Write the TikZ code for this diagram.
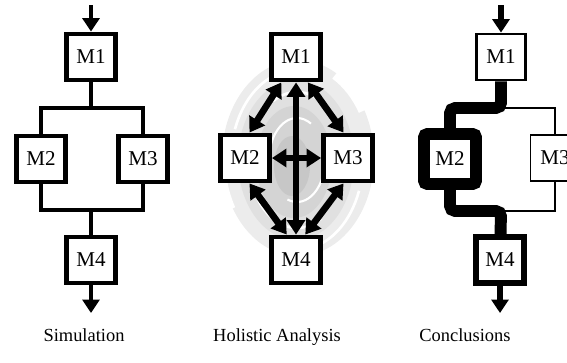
\documentclass[tikz,border=0pt]{standalone}
\usepackage{fontspec}
\setmainfont{Liberation Serif}
\usetikzlibrary{arrows.meta}
\begin{document}
\begin{tikzpicture}[x=0.02cm, y=-0.02cm,
  module/.style={draw, line width=2.8pt, fill=white, minimum width=0.98cm,
    minimum height=0.92cm, inner sep=0pt, font=\fontsize{12}{14}\selectfont},
  flow/.style={line width=2.8pt},
  flowin/.style={flow, -{Triangle[length=0.27cm, width=0.34cm]}},
  link/.style={line width=3.8pt,
    {Triangle[length=0.29cm, width=0.36cm]}-{Triangle[length=0.29cm, width=0.36cm]}},
  heavy/.style={line width=6.8pt, rounded corners=3pt},
  caption/.style={font=\fontsize{10.5}{12}\selectfont, anchor=base}]
\useasboundingbox (0,0) rectangle (567,362);
\clip (0,0) rectangle (567,362);

% simulation
\node[module] (s1) at (91,57) {M1};
\node[module] (s2) at (41,159) {M2};
\node[module] (s3) at (143,159) {M3};
\node[module] (s4) at (91,260) {M4};
\coordinate (sin) at (91,5);
\coordinate (sout) at (91,313);
\coordinate (ssplit) at (91,108);
\coordinate (sjoin) at (91,210);
\draw[flowin] (sin) -- (s1);
\draw[flow] (s1) -- (ssplit);
\draw[flow] (s2.north) |- (ssplit) -| (s3.north);
\draw[flow] (s2.south) |- (sjoin) -| (s3.south);
\draw[flow] (sjoin) -- (s4);
\draw[flowin] (s4) -- (sout);

% holistic analysis
\fill[gray!15] (298,158) ellipse [x radius=76, y radius=98];
\fill[gray!24] (296,160) ellipse [x radius=58, y radius=80];
\fill[gray!34] (294,162) ellipse [x radius=38, y radius=56];
\fill[gray!44] (292,166) ellipse [x radius=18, y radius=30];
\foreach \rx/\ry/\from/\to/\w in {76/98/300/330/5, 76/98/150/170/5,
    66/90/200/280/1.5, 66/90/20/80/1.5, 48/68/240/330/1.5, 48/68/60/150/1.5,
    28/42/180/300/1.2, 28/42/0/110/1.2}
  \draw[line width=\w pt, white] (297,160) ++({\rx*cos(\from)},{\ry*sin(\from)})
    arc[start angle=\from, end angle=\to, x radius=\rx, y radius=\ry];
\node[module] (h1) at (296,57) {M1};
\node[module] (h2) at (245,158) {M2};
\node[module] (h3) at (348,158) {M3};
\node[module] (h4) at (296,260) {M4};
\draw[link] (h1.-120) -- (h2.80);
\draw[link] (h1.-65) -- (h3.100);
\draw[link] (h1.south) -- (h4.north);
\draw[link] (h2.east) -- (h3.west);
\draw[link] (h2.-80) -- (h4.110);
\draw[link] (h3.-100) -- (h4.70);

% conclusions
\node[module, line width=1.6pt] (c1) at (501,57) {M1};
\node[module, line width=6.8pt, minimum width=1.04cm, minimum height=1cm,
  rounded corners=2pt] (c2) at (450,159) {M2};
\node[module, line width=0.8pt] (c3) at (555,158) {M3};
\node[module, line width=3.4pt, minimum width=0.96cm,
  minimum height=0.92cm] (c4) at (500,260) {M4};
\coordinate (cin) at (501,5);
\coordinate (cout) at (500,313);
\coordinate (csplit) at (501,108);
\coordinate (cjoin) at (501,211);
\draw[line width=3.6pt, -{Triangle[length=0.27cm, width=0.34cm]}] (cin) -- (c1);
\draw[heavy] (c1.south) -- (csplit) -| (c2.north);
\draw[line width=1.5pt] (csplit) -| (c3.north);
\draw[line width=0.7pt] (c3.south) |- (cjoin);
\draw[heavy] (c2.south) |- (cjoin) -- (c4);
\draw[line width=3.6pt, -{Triangle[length=0.27cm, width=0.34cm]}] (c4) -- (cout);

\node[caption] (lsim) at (84,341) {Simulation};
\node[caption] (lhol) at (277,341) {Holistic Analysis};
\node[caption] (lcon) at (465,341) {Conclusions};
\end{tikzpicture}
\end{document}
